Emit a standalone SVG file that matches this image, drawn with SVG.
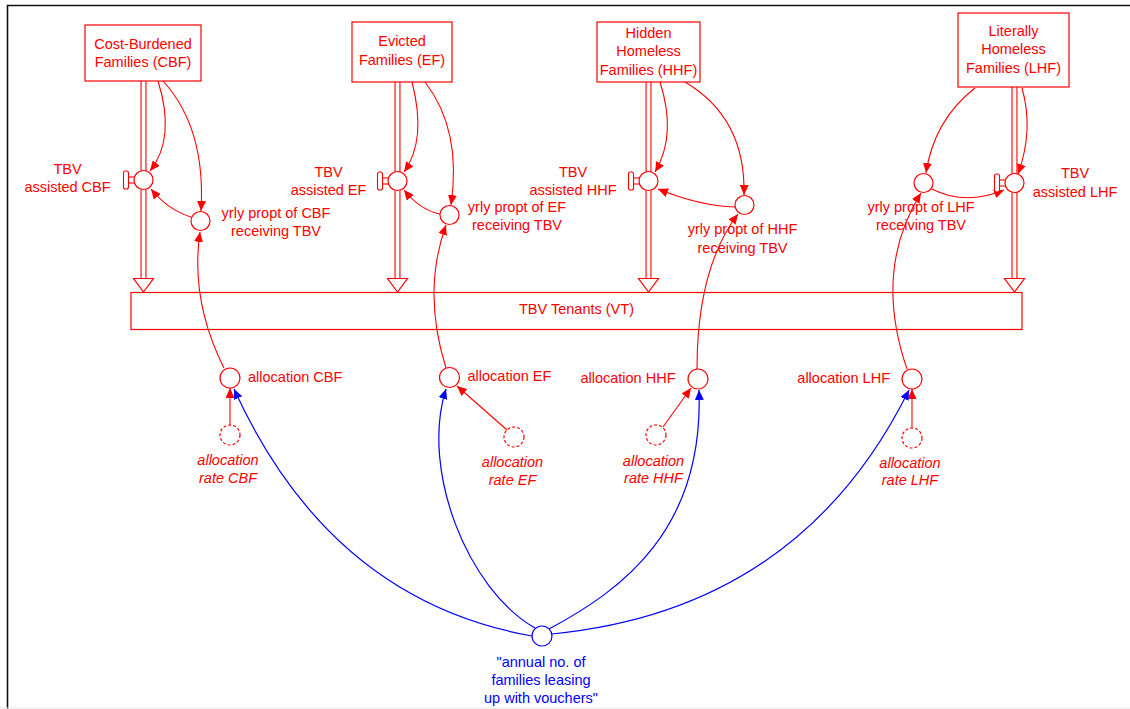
<svg xmlns="http://www.w3.org/2000/svg" width="1130" height="709" viewBox="0 0 1130 709">
  <defs>
    <marker id="arrRed" markerUnits="userSpaceOnUse" markerWidth="11" markerHeight="9" refX="10" refY="4.5" orient="auto">
      <path d="M0,0 L10,4.5 L0,9 z" fill="#ff0000"/>
    </marker>
    <marker id="arrBlue" markerUnits="userSpaceOnUse" markerWidth="11" markerHeight="9" refX="10" refY="4.5" orient="auto">
      <path d="M0,0 L10,4.5 L0,9 z" fill="#0000ff"/>
    </marker>
  </defs>
  <style>
    text { font-family: "Liberation Sans", Arial, sans-serif; font-size: 14.5px; fill: #ff0000; }
    .c { text-anchor: middle; }
    .e { text-anchor: end; }
    .it { font-style: italic; }
    .blue { fill: #0000ff; }
    .stock { fill: #ffffff; stroke: #ff0000; stroke-width: 1.2; }
    .aux { fill: #ffffff; stroke: #ff0000; stroke-width: 1.2; }
    .shadow { fill: #ffffff; stroke: #ff0000; stroke-width: 1.2; stroke-dasharray: 3 2; }
    .link { fill: none; stroke: #ff0000; stroke-width: 1.1; marker-end: url(#arrRed); }
    .blink { fill: none; stroke: #0000ff; stroke-width: 1.2; marker-end: url(#arrBlue); }
    .pipeOut { fill: none; stroke: #ff0000; stroke-width: 6; }
    .pipeIn { fill: none; stroke: #ffffff; stroke-width: 3.8; }
    .head { fill: #ffffff; stroke: #ff0000; stroke-width: 1.2; }
    .handle { fill: #ffffff; stroke: #ff0000; stroke-width: 1.1; }
  </style>

  <rect width="1130" height="709" fill="#ffffff"/>
  <!-- frame -->
  <path d="M7.5,709 V5.5 H1130" fill="none" stroke="#111" stroke-width="1.6"/>
  <line x1="0" y1="708" x2="1130" y2="708" stroke="#e8e8e8" stroke-width="1"/>

  <!-- flow pipes into the TBV Tenants stock -->
  <g id="flows">
    <path class="pipeOut" d="M143.5,81 V279 M397.5,82 V279 M648.5,82 V279 M1014.5,87 V279"/>
    <path class="pipeIn" d="M143.5,81 V280 M397.5,82 V280 M648.5,82 V280 M1014.5,87 V280"/>
    <polygon class="head" points="133.5,278.5 153.5,278.5 143.5,292"/>
    <polygon class="head" points="387.5,278.5 407.5,278.5 397.5,292"/>
    <polygon class="head" points="638.5,278.5 658.5,278.5 648.5,292"/>
    <polygon class="head" points="1004.5,278.5 1024.5,278.5 1014.5,292"/>
  </g>

  <!-- connectors -->
  <g id="connectors">
    <!-- CBF -->
    <path class="link" d="M158,81 Q176,138 150,171"/>
    <path class="link" d="M163,81 Q206,128 201,211"/>
    <path class="link" d="M191,217 Q168,210 151,189"/>
    <path class="link" d="M224,368 Q190,300 200,232"/>
    <path class="link" d="M230,425 V388"/>
    <!-- EF -->
    <path class="link" d="M412,82 Q427,140 404,172"/>
    <path class="link" d="M425,82 Q462,130 451,205"/>
    <path class="link" d="M440,214 Q420,210 404,190"/>
    <path class="link" d="M446,368 Q422,292 446,225"/>
    <path class="link" d="M507,430 L457,386"/>
    <!-- HHF -->
    <path class="link" d="M660,82 Q677,135 655,172"/>
    <path class="link" d="M685,82 Q746,118 744,195"/>
    <path class="link" d="M735,207 Q700,206 658,189"/>
    <path class="link" d="M697,369 Q697,268 738,214"/>
    <path class="link" d="M663,427 L691,388"/>
    <!-- LHF -->
    <path class="link" d="M975,88 Q934,120 926,173"/>
    <path class="link" d="M1022,88 Q1034,130 1018,174"/>
    <path class="link" d="M932,189 Q965,206 1004,190"/>
    <path class="link" d="M907,369 Q873,270 921,193"/>
    <path class="link" d="M912,428 V389"/>
    <!-- voucher supply to each allocation -->
    <path class="blink" d="M532,636 Q330,600 234,389"/>
    <path class="blink" d="M535,628 C468,590 420,470 446,389"/>
    <path class="blink" d="M549,629 C622,590 704,530 699,390"/>
    <path class="blink" d="M552,634 Q800,610 909,390"/>
  </g>

  <!-- stocks -->
  <g id="stock-cbf">
    <rect class="stock" x="85" y="25" width="116" height="56"/>
    <text class="c" x="143" y="48.5">Cost-Burdened</text>
    <text class="c" x="143" y="67">Families (CBF)</text>
  </g>
  <g id="stock-ef">
    <rect class="stock" x="352" y="22" width="100" height="60"/>
    <text class="c" x="402" y="46">Evicted</text>
    <text class="c" x="402" y="65">Families (EF)</text>
  </g>
  <g id="stock-hhf">
    <rect class="stock" x="597" y="22" width="103" height="60"/>
    <text class="c" x="648.5" y="37.5">Hidden</text>
    <text class="c" x="648.5" y="56">Homeless</text>
    <text class="c" x="648.5" y="74.5">Families (HHF)</text>
  </g>
  <g id="stock-lhf">
    <rect class="stock" x="958" y="13" width="111" height="74"/>
    <text class="c" x="1013.5" y="36">Literally</text>
    <text class="c" x="1013.5" y="54">Homeless</text>
    <text class="c" x="1013.5" y="72.5">Families (LHF)</text>
  </g>
  <g id="stock-vt">
    <rect x="131" y="292.5" width="891" height="37" fill="none" stroke="#ff0000" stroke-width="1.2"/>
    <text class="c" x="576.5" y="314">TBV Tenants (VT)</text>
  </g>

  <!-- valves -->
  <g id="valve-cbf">
    <rect class="handle" x="128.5" y="177" width="6" height="6"/>
    <rect class="handle" x="123.5" y="171" width="5" height="18" rx="2"/>
    <circle class="aux" cx="143.5" cy="180" r="9.5"/>
    <text class="c" x="67.5" y="173.5">TBV</text>
    <text class="c" x="67.5" y="192">assisted CBF</text>
  </g>
  <g id="valve-ef">
    <rect class="handle" x="382.5" y="178" width="6" height="6"/>
    <rect class="handle" x="377.5" y="172" width="5" height="18" rx="2"/>
    <circle class="aux" cx="397.5" cy="181" r="9.5"/>
    <text class="c" x="328.5" y="177">TBV</text>
    <text class="c" x="328.5" y="195">assisted EF</text>
  </g>
  <g id="valve-hhf">
    <rect class="handle" x="633.5" y="178" width="6" height="6"/>
    <rect class="handle" x="628.5" y="172" width="5" height="18" rx="2"/>
    <circle class="aux" cx="648.5" cy="181" r="9.5"/>
    <text class="c" x="573" y="177">TBV</text>
    <text class="c" x="573" y="195">assisted HHF</text>
  </g>
  <g id="valve-lhf">
    <rect class="handle" x="999.5" y="180" width="6" height="6"/>
    <rect class="handle" x="994.5" y="174" width="5" height="18" rx="2"/>
    <circle class="aux" cx="1014.5" cy="183" r="9.5"/>
    <text class="c" x="1075" y="178">TBV</text>
    <text class="c" x="1075" y="197">assisted LHF</text>
  </g>

  <!-- yearly proportion receiving TBV -->
  <g id="yrly-cbf">
    <circle class="aux" cx="200.5" cy="221" r="9.5"/>
    <text class="c" x="276" y="218">yrly propt of CBF</text>
    <text class="c" x="276" y="236">receiving TBV</text>
  </g>
  <g id="yrly-ef">
    <circle class="aux" cx="449.5" cy="215" r="9.5"/>
    <text class="c" x="517" y="212">yrly propt of EF</text>
    <text class="c" x="517" y="230">receiving TBV</text>
  </g>
  <g id="yrly-hhf">
    <circle class="aux" cx="744.5" cy="205" r="9.5"/>
    <text class="c" x="742.5" y="234">yrly propt of HHF</text>
    <text class="c" x="742.5" y="252.5">receiving TBV</text>
  </g>
  <g id="yrly-lhf">
    <circle class="aux" cx="923.5" cy="183" r="9.5"/>
    <text class="c" x="921" y="212">yrly propt of LHF</text>
    <text class="c" x="921" y="230">receiving TBV</text>
  </g>

  <!-- allocations -->
  <g id="alloc-cbf">
    <circle class="aux" cx="230" cy="378" r="10"/>
    <text x="248" y="382">allocation CBF</text>
  </g>
  <g id="alloc-ef">
    <circle class="aux" cx="449.5" cy="377.5" r="10"/>
    <text x="467.5" y="381">allocation EF</text>
  </g>
  <g id="alloc-hhf">
    <circle class="aux" cx="698" cy="379" r="10"/>
    <text class="e" x="675.5" y="383">allocation HHF</text>
  </g>
  <g id="alloc-lhf">
    <circle class="aux" cx="912" cy="379" r="10"/>
    <text class="e" x="890" y="383">allocation LHF</text>
  </g>

  <!-- allocation rates (shadow variables) -->
  <g id="rate-cbf">
    <circle class="shadow" cx="230" cy="435" r="10"/>
    <text class="c it" x="228" y="465">allocation</text>
    <text class="c it" x="228" y="483">rate CBF</text>
  </g>
  <g id="rate-ef">
    <circle class="shadow" cx="514" cy="437" r="10"/>
    <text class="c it" x="512.5" y="467">allocation</text>
    <text class="c it" x="512.5" y="485">rate EF</text>
  </g>
  <g id="rate-hhf">
    <circle class="shadow" cx="656" cy="435" r="10"/>
    <text class="c it" x="653.5" y="465.5">allocation</text>
    <text class="c it" x="653.5" y="483">rate HHF</text>
  </g>
  <g id="rate-lhf">
    <circle class="shadow" cx="912" cy="438" r="10"/>
    <text class="c it" x="910" y="467.5">allocation</text>
    <text class="c it" x="910" y="485">rate LHF</text>
  </g>

  <!-- voucher supply -->
  <g id="vouchers">
    <circle cx="542" cy="636" r="10" fill="#ffffff" stroke="#0000ff" stroke-width="1.2"/>
    <text class="c blue" x="541" y="667">"annual no. of</text>
    <text class="c blue" x="541" y="685">families leasing</text>
    <text class="c blue" x="541" y="703">up with vouchers"</text>
  </g>
</svg>
